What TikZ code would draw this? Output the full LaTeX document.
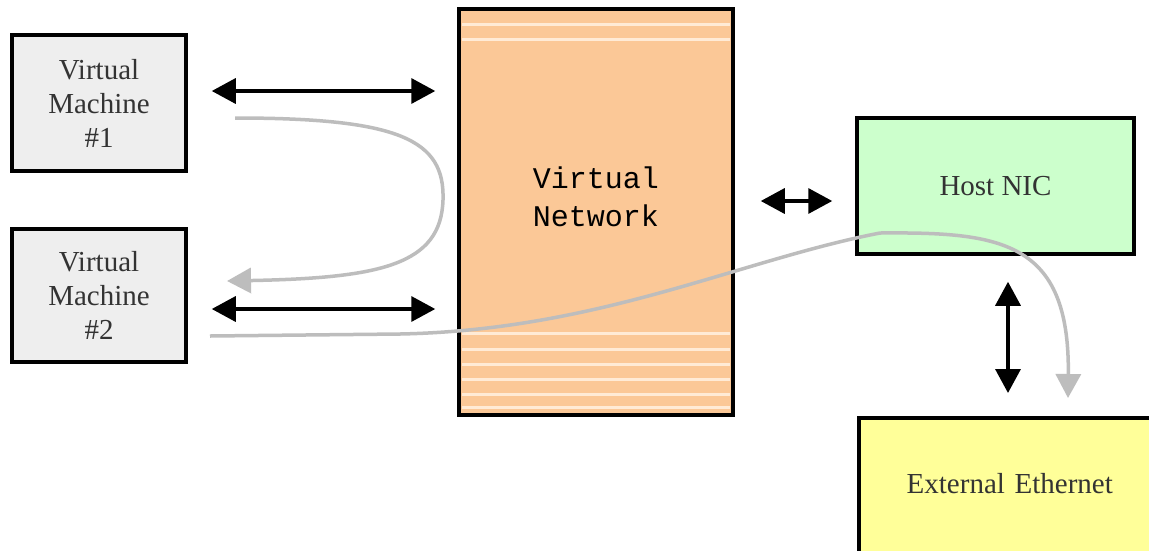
\documentclass[tikz,border=0pt]{standalone}
\usepackage{fontspec}
\setmainfont{Liberation Serif}
\setmonofont{Liberation Mono}
\usetikzlibrary{arrows.meta, calc, positioning}
\definecolor{vmgray}{HTML}{EEEEEE}
\definecolor{vnet}{HTML}{FBC897}
\definecolor{vnline}{HTML}{FFEBD6}
\definecolor{nicgreen}{HTML}{CCFFCC}
\definecolor{ether}{HTML}{FFFF99}
\definecolor{flowgray}{HTML}{BDBDBD}

\begin{document}
\begin{tikzpicture}[x=1pt, y=-1pt]
    \tikzstyle{box}=[draw=black, line width=3.5pt, rectangle, inner sep=0pt, align=center,
                     font=\fontsize{29}{34}\selectfont, text=black!80]
    \tikzstyle{link}=[line width=3.5pt, {Triangle[length=24pt,width=25pt]}-{Triangle[length=24pt,width=25pt]}]
    \tikzstyle{flow}=[draw=flowgray, line width=3.5pt, -{Triangle[length=24pt,width=25pt]}]

    \clip (0,0) rectangle (1149,550);
    \fill[white] (0,0) rectangle (1149,550);

    \node[box, fill=vmgray, minimum width=174pt, minimum height=136pt] (vm1) at (99,103) {Virtual\\Machine\\\#1};
    \node[box, fill=vmgray, minimum width=174pt, minimum height=133pt] (vm2) at (99,295.5) {Virtual\\Machine\\\#2};
    \node[box, fill=vnet, minimum width=274pt, minimum height=406pt, text=black,
          font=\fontsize{30}{38}\ttfamily, text depth=30pt] (vn) at (596,212) {Virtual\\Network};
    \node[box, fill=nicgreen, minimum width=277pt, minimum height=136pt] (nic) at (995.5,186) {Host NIC};
    \node[box, fill=ether, minimum width=302pt, anchor=north west, text width=302pt,
          text height=76pt, text depth=68pt] (eth) at (857,416) {External Ethernet};

    % stripes of the virtual network
    \foreach \y in {24,39,333,349,364,379,394,407}
        \draw[vnline, line width=3pt] (462,\y) -- (730,\y);

    \draw[link, shorten <=24pt, shorten >=22pt] ([yshift=12pt]vm1.east) -- ([yshift=12pt]vm1.east -| vn.west);
    \draw[link, shorten <=24pt, shorten >=22pt] ([yshift=-13.5pt]vm2.east) -- ([yshift=-13.5pt]vm2.east -| vn.west);
    \draw[link, shorten <=26pt, shorten >=23pt] ([yshift=-15pt]nic.west -| vn.east) -- ([yshift=-15pt]nic.west);
    \draw[link, shorten <=26pt, shorten >=23pt] ([xshift=12.5pt]nic.south) -- ([xshift=12.5pt]nic.south |- eth.north);

    \coordinate (u1) at (235,118);
    \coordinate (u2) at (227,281);
    \coordinate (w1) at (210,336);
    \coordinate (w2) at (1068,398);
    \draw[flow] (u1) .. controls (400,118) and (445,140) .. (443,200)
                     .. controls (441,265) and (380,278) .. (u2);
    \draw[flow] (w1) -- (400,334) .. controls (600,330) and (740,260) .. (880,233)
                     .. controls (1000,232) and (1070,240) .. (w2);
\end{tikzpicture}
\end{document}
